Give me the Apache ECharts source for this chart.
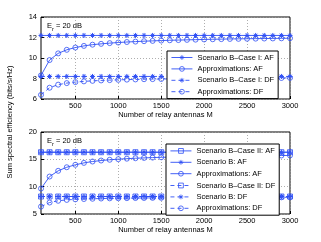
<!DOCTYPE html>
<html><head><meta charset="utf-8">
<script src="https://cdn.jsdelivr.net/npm/echarts@6/dist/echarts.min.js"></script>
<style>html,body{margin:0;padding:0;background:#fff}#c{width:321px;height:242px}</style>
</head><body><div id="c"></div>
<script>
const antennas = [100,200,300,400,500,600,700,800,900,1000,1100,1200,1300,1400,1500,1600,1700,1800,1900,2000,2100,2200,2300,2400,2500,2600,2700,2800,2900,3000];
const xTickValues = [500,1000,1500,2000,2500,3000];

// top panel
const topCaseIAF = [12.2,12.2,12.2,12.2,12.2,12.2,12.2,12.2,12.2,12.2,12.2,12.2,12.2,12.2,12.2,12.2,12.2,12.2,12.2,12.2,12.2,12.2,12.2,12.2,12.2,12.2,12.2,12.2,12.2,12.2];
const topApproxAF = [8.3,9.8,10.45,10.8,11.02,11.18,11.3,11.38,11.45,11.51,11.56,11.6,11.64,11.67,11.7,11.73,11.75,11.77,11.79,11.81,11.83,11.84,11.86,11.87,11.88,11.89,11.9,11.91,11.92,11.93];
const topCaseIDF = [8.2,8.2,8.2,8.2,8.2,8.2,8.2,8.2,8.2,8.2,8.2,8.2,8.2,8.2,8.2,8.2,8.2,8.2,8.2,8.2,8.2,8.2,8.2,8.2,8.2,8.2,8.2,8.2,8.2,8.2];
const topApproxDF = [6.4,7.1,7.4,7.55,7.65,7.72,7.77,7.81,7.84,7.87,7.89,7.91,7.93,7.94,7.95,7.96,7.97,7.98,7.99,8.0,8.01,8.02,8.02,8.03,8.03,8.04,8.04,8.05,8.05,8.06];

// bottom panel
const botCaseIIAF = [16.3,16.3,16.3,16.3,16.3,16.3,16.3,16.3,16.3,16.3,16.3,16.3,16.3,16.3,16.3,16.3,16.3,16.3,16.3,16.3,16.3,16.3,16.3,16.3,16.3,16.3,16.3,16.3,16.3,16.3];
const botScenBAF = [16.3,16.3,16.3,16.3,16.3,16.3,16.3,16.3,16.3,16.3,16.3,16.3,16.3,16.3,16.3,16.3,16.3,16.3,16.3,16.3,16.3,16.3,16.3,16.3,16.3,16.3,16.3,16.3,16.3,16.3];
const botApproxAF = [9.65,11.85,12.9,13.55,14.0,14.35,14.6,14.78,14.92,15.03,15.12,15.2,15.26,15.32,15.37,15.41,15.45,15.48,15.51,15.54,15.56,15.58,15.6,15.62,15.64,15.66,15.67,15.69,15.7,15.71];
const botCaseIIDF = [8.2,8.2,8.2,8.2,8.2,8.2,8.2,8.2,8.2,8.2,8.2,8.2,8.2,8.2,8.2,8.2,8.2,8.2,8.2,8.2,8.2,8.2,8.2,8.2,8.2,8.2,8.2,8.2,8.2,8.2];
const botScenBDF = [8.2,8.2,8.2,8.2,8.2,8.2,8.2,8.2,8.2,8.2,8.2,8.2,8.2,8.2,8.2,8.2,8.2,8.2,8.2,8.2,8.2,8.2,8.2,8.2,8.2,8.2,8.2,8.2,8.2,8.2];
const botApproxDF = [6.35,7.1,7.42,7.58,7.68,7.74,7.79,7.83,7.86,7.88,7.9,7.92,7.93,7.95,7.96,7.97,7.98,7.99,8.0,8.0,8.01,8.02,8.02,8.03,8.03,8.04,8.04,8.05,8.05,8.06];

const topLegend = ['Scenario B–Case I: AF','Approximations: AF','Scenario B–Case I: DF','Approximations: DF'];
const botLegend = ['Scenario B–Case II: AF','Scenario B: AF','Approximations: AF','Scenario B–Case II: DF','Scenario B: DF','Approximations: DF'];

const BLUE = '#2f4ff5';
const FONT = 'Liberation Sans, Arial, sans-serif';
const FS = 7.5;
const STAR = 'path://M5 0L5 10M0 5L10 5M1.6 1.6L8.4 8.4M1.6 8.4L8.4 1.6';

function pairs(vals){ return antennas.map((m,i)=>[m, vals[i]]); }

function mk(name, vals, idx, marker, dashed){
  const s = {
    name, type:'line', xAxisIndex:idx, yAxisIndex:idx, data:pairs(vals),
    showAllSymbol:true, animation:false,
    lineStyle:{color:BLUE, width:0.9, type: dashed ? [4,3] : 'solid'},
    emphasis:{disabled:true}
  };
  if (marker==='star'){
    s.symbol = STAR; s.symbolSize = 5;
    s.itemStyle = {color:BLUE, borderColor:BLUE, borderWidth:1};
  } else if (marker==='circle'){
    s.symbol = 'circle'; s.symbolSize = 5;
    s.itemStyle = {color:'none', borderColor:BLUE, borderWidth:0.8};
  } else {
    s.symbol = 'rect'; s.symbolSize = 5;
    s.itemStyle = {color:'none', borderColor:BLUE, borderWidth:0.8};
  }
  return s;
}

const xAxisBase = (gi) => ({
  type:'value', gridIndex:gi, min:100, max:3000,
  axisLine:{show:false},
  axisTick:{show:true, inside:true, length:3, customValues:xTickValues, lineStyle:{color:'#000'}},
  axisLabel:{fontSize:FS, color:'#000', fontFamily:FONT, margin:3, customValues:xTickValues, formatter:(v)=>String(v)},
  splitLine:{show:true, lineStyle:{color:'#999', type:[1,2], width:0.8}},
  name:'Number of relay antennas M', nameLocation:'middle', nameGap:12,
  nameTextStyle:{fontSize:FS, color:'#000', fontFamily:FONT}
});
const yAxisBase = (gi, min, max, interval) => ({
  type:'value', gridIndex:gi, min, max, interval,
  axisLine:{show:false},
  axisTick:{show:true, inside:true, length:3, lineStyle:{color:'#000'}},
  axisLabel:{fontSize:FS, color:'#000', fontFamily:FONT, margin:4},
  splitLine:{show:true, lineStyle:{color:'#999', type:[1,2], width:0.8}}
});

const legendBase = {
  orient:'vertical', itemWidth:21, itemHeight:6, itemGap:2,
  padding:[2,4,2,4], borderColor:'#000', borderWidth:1, backgroundColor:'#fff',
  borderRadius:0, selectedMode:false,
  lineStyle:{width:0.9},
  itemStyle:{borderWidth:0.8},
  textStyle:{fontSize:FS, color:'#000', fontFamily:FONT, lineHeight:9}
};

const chart = echarts.init(document.getElementById('c'), null, {renderer:'canvas'});
chart.setOption({
  animation:false,
  backgroundColor:'#fff',
  grid:[
    {left:41, right:31, top:17, height:82, show:true, borderColor:'#000', borderWidth:1, backgroundColor:'transparent'},
    {left:41, right:31, top:132, height:82, show:true, borderColor:'#000', borderWidth:1, backgroundColor:'transparent'}
  ],
  xAxis:[xAxisBase(0), xAxisBase(1)],
  yAxis:[yAxisBase(0,6,14,2), yAxisBase(1,5,20,5)],
  legend:[
    Object.assign({}, legendBase, {left:167, top:51, data:topLegend}),
    Object.assign({}, legendBase, {left:166, top:144, data:botLegend})
  ],
  graphic:[
    {type:'text', x:10, y:122, rotation:Math.PI/2, style:{text:'Sum spectral efficiency (bits/s/Hz)', fontSize:FS, fontFamily:FONT, fill:'#000', align:'center', verticalAlign:'middle'}},
    {type:'text', x:47, y:25, style:{text:'{a|E}{b|r}{a| = 20 dB}', verticalAlign:'middle', rich:{a:{fontSize:FS, fontFamily:FONT, fill:'#000', lineHeight:10, verticalAlign:'bottom'}, b:{fontSize:5.5, fontFamily:FONT, fill:'#000', lineHeight:10, verticalAlign:'bottom', padding:[0,0,-2,0]}}}},
    {type:'text', x:47, y:140, style:{text:'{a|E}{b|r}{a| = 20 dB}', verticalAlign:'middle', rich:{a:{fontSize:FS, fontFamily:FONT, fill:'#000', lineHeight:10, verticalAlign:'bottom'}, b:{fontSize:5.5, fontFamily:FONT, fill:'#000', lineHeight:10, verticalAlign:'bottom', padding:[0,0,-2,0]}}}}
  ],
  series:[
    mk(topLegend[0], topCaseIAF, 0, 'star', false),
    mk(topLegend[1], topApproxAF, 0, 'circle', false),
    mk(topLegend[2], topCaseIDF, 0, 'star', true),
    mk(topLegend[3], topApproxDF, 0, 'circle', true),
    mk(botLegend[0], botCaseIIAF, 1, 'rect', false),
    mk(botLegend[1], botScenBAF, 1, 'star', false),
    mk(botLegend[2], botApproxAF, 1, 'circle', false),
    mk(botLegend[3], botCaseIIDF, 1, 'rect', true),
    mk(botLegend[4], botScenBDF, 1, 'star', true),
    mk(botLegend[5], botApproxDF, 1, 'circle', true)
  ]
});
</script></body></html>
